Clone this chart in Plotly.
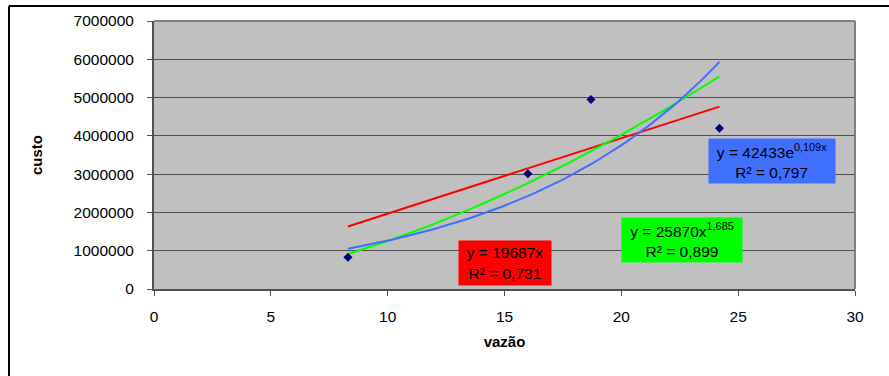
import numpy as np
import plotly.graph_objects as go

# data points
vazao = [8.3, 16.0, 18.7, 24.2]
custo = [830000, 3010000, 4950000, 4200000]

# trendline coefficients (as plotted)
lin_slope = 196870
exp_a, exp_b = 424330, 0.109
pow_a, pow_b = 25870, 1.685

x_ticks = [0, 5, 10, 15, 20, 25, 30]
y_ticks = [0, 1000000, 2000000, 3000000, 4000000, 5000000, 6000000, 7000000]

label_lin = "y = 19687x<br>R² = 0,731"
label_pow = "y = 25870x<sup>1,685</sup><br>R² = 0,899"
label_exp = "y = 42433e<sup>0,109x</sup><br>R² = 0,797"

xs = np.linspace(min(vazao), max(vazao), 100)

fig = go.Figure()
fig.add_trace(go.Scatter(x=xs, y=lin_slope * xs, mode="lines",
                         line=dict(color="#FF0000", width=2), hoverinfo="skip"))
fig.add_trace(go.Scatter(x=xs, y=pow_a * xs ** pow_b, mode="lines",
                         line=dict(color="#00FF00", width=2), hoverinfo="skip"))
fig.add_trace(go.Scatter(x=xs, y=exp_a * np.exp(exp_b * xs), mode="lines",
                         line=dict(color="#3F6FFF", width=2), hoverinfo="skip"))
fig.add_trace(go.Scatter(x=vazao, y=custo, mode="markers",
                         marker=dict(symbol="diamond", color="#000080", size=7)))

FAM = "Liberation Sans, Arial, sans-serif"
font = dict(family=FAM, size=15.5, color="black")

fig.add_annotation(x=15.04, y=692000, text=label_lin, showarrow=False,
                   bgcolor="#FF0000", width=92, height=44, borderpad=0,
                   font=font, align="center")
fig.add_annotation(x=22.59, y=1278000, text=label_pow, showarrow=False,
                   bgcolor="#00FF00", width=120, height=44, borderpad=0,
                   font=font, align="center")
fig.add_annotation(x=26.45, y=3352000, text=label_exp, showarrow=False,
                   bgcolor="#3F6FFF", width=126, height=44, borderpad=0,
                   font=font, align="center")

# outer frame lines (top and left)
fig.add_shape(type="line", xref="paper", yref="paper",
              x0=(9 - 154) / 701, x1=(889 - 154) / 701 + 0.01,
              y0=(289 - 4) / 270, y1=(289 - 4) / 270,
              line=dict(color="black", width=2))
fig.add_shape(type="line", xref="paper", yref="paper",
              x0=(9 - 154) / 701, x1=(9 - 154) / 701,
              y0=(289 - 4) / 270, y1=(289 - 380) / 270,
              line=dict(color="black", width=2))

fig.update_layout(
    width=889, height=376,
    margin=dict(l=154, r=34, t=19, b=87),
    paper_bgcolor="white", plot_bgcolor="#C0C0C0",
    showlegend=False, font=font,
    xaxis=dict(range=[0, 30], tickvals=x_ticks, ticks="outside", ticklen=5,
               tickcolor="#505050", showgrid=False, zeroline=False,
               showline=True, linecolor="#505050", linewidth=2, mirror=False,
               ticklabelstandoff=7, tickfont=dict(family=FAM, size=15.5),
               title=dict(text="<b>vazão</b>", font=dict(family=FAM, size=15),
                          standoff=13)),
    yaxis=dict(range=[0, 7000000], tickvals=y_ticks, tickformat="d",
               ticks="outside", ticklen=5, tickcolor="#505050",
               showgrid=True, gridcolor="#505050", gridwidth=1,
               zeroline=False, showline=True, linecolor="#505050", linewidth=2,
               ticklabelstandoff=10, tickfont=dict(family=FAM, size=15.5),
               title=dict(text="<b>custo</b>", font=dict(family=FAM, size=15),
                          standoff=27)),
)

# right and top plot border (thin gray)
fig.add_shape(type="line", xref="paper", yref="paper", x0=1, x1=1, y0=0, y1=1,
              line=dict(color="#808080", width=2))
fig.add_shape(type="line", xref="paper", yref="paper", x0=0, x1=1, y0=1, y1=1,
              line=dict(color="#808080", width=2))

fig.write_html("out.html")
